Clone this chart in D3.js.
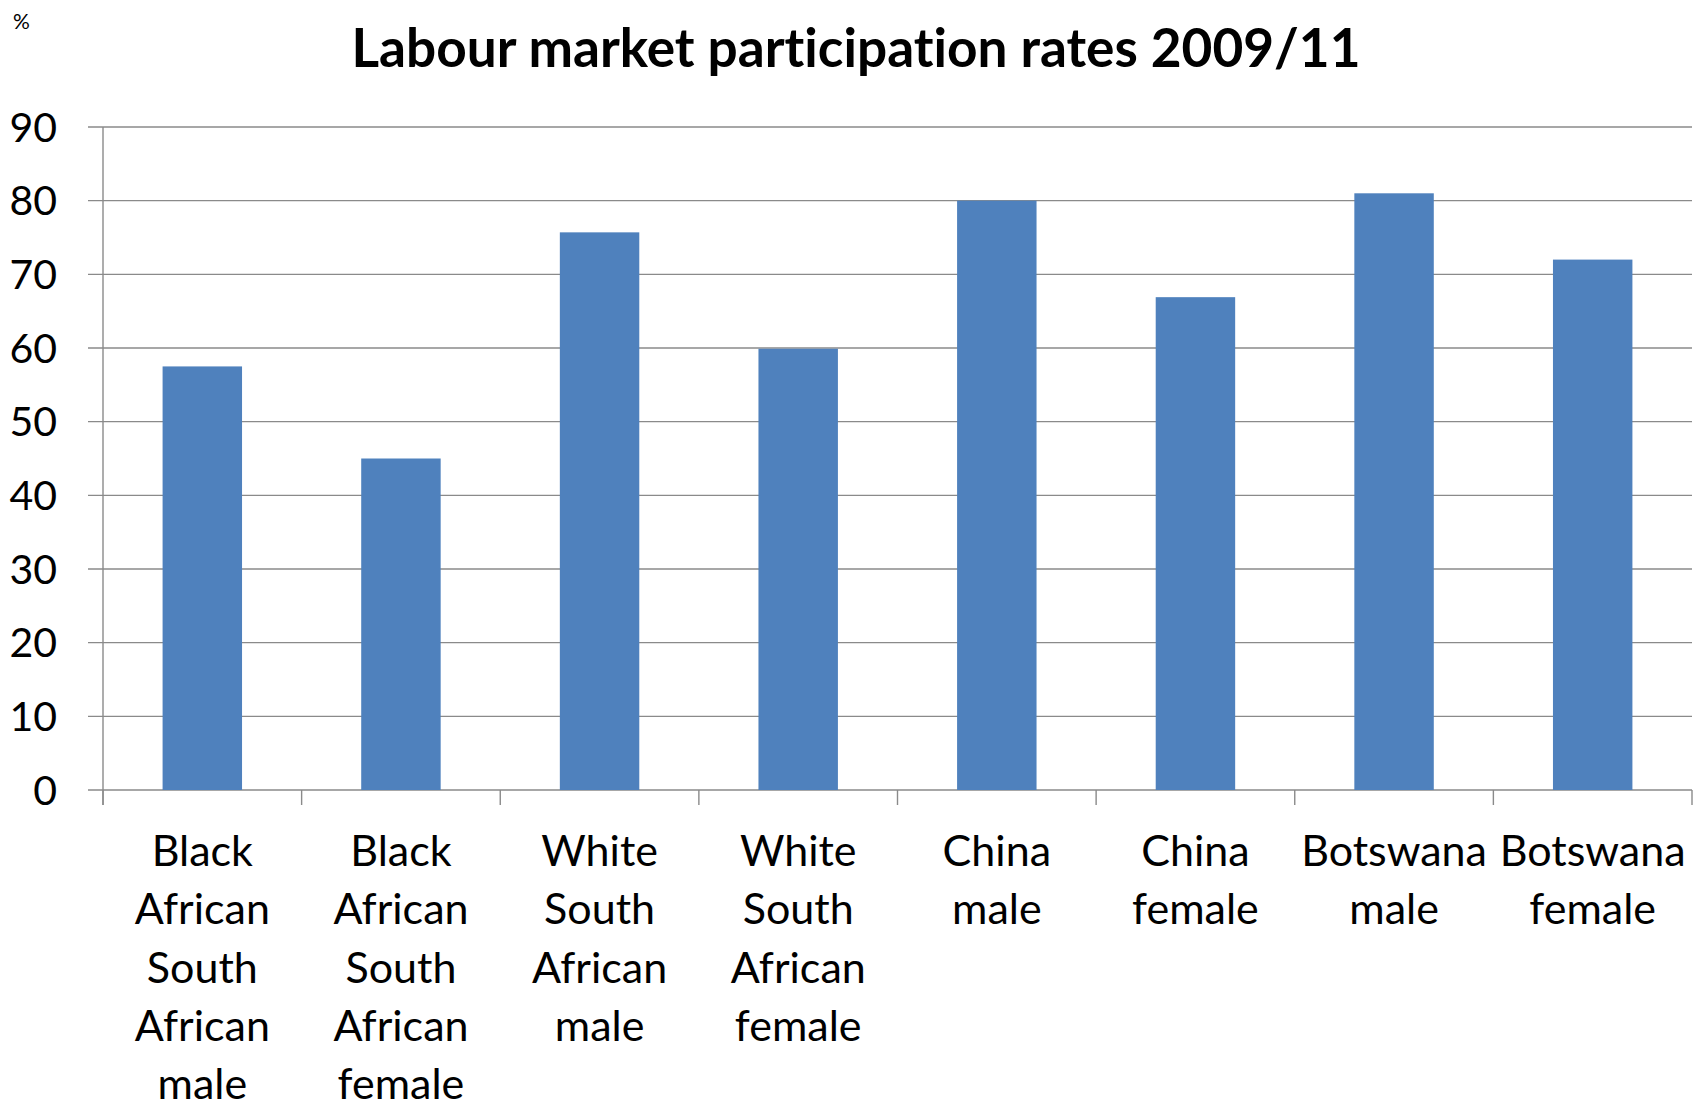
<!DOCTYPE html>
<html>
<head>
<meta charset="utf-8">
<script src="https://cdn.jsdelivr.net/npm/d3@7"></script>
<style>
  html, body { margin: 0; padding: 0; background: #fff; }
  svg { display: block; }
  text { font-family: Lato, "Open Sans", sans-serif; fill: #000; font-variant-ligatures: none; }
</style>
</head>
<body>
<svg id="chart" width="1707" height="1108"></svg>
<script>
// Labour market participation rates, 2009/11 (%)
const categories = [
  ["Black", "African", "South", "African", "male"],
  ["Black", "African", "South", "African", "female"],
  ["White", "South", "African", "male"],
  ["White", "South", "African", "female"],
  ["China", "male"],
  ["China", "female"],
  ["Botswana", "male"],
  ["Botswana", "female"]
];
const rates = [57.5, 45, 75.7, 59.9, 80, 66.9, 81, 72];
const yTicks = [0, 10, 20, 30, 40, 50, 60, 70, 80, 90];
const title = "Labour market participation rates 2009/11";
const unitLabel = "%";

const svg = d3.select("#chart");
const margin = { left: 103, right: 15, top: 127, bottom: 318 };
const W = 1707, H = 1108;
const plotW = W - margin.left - margin.right;
const plotH = H - margin.top - margin.bottom;

const keys = categories.map((c, i) => i);
const x = d3.scaleBand().domain(keys).range([0, plotW]).paddingInner(0.6).paddingOuter(0.3);
const y = d3.scaleLinear().domain([0, 90]).range([plotH, 0]);

const g = svg.append("g").attr("transform", `translate(${margin.left},${margin.top})`);

// horizontal gridlines with outside tick marks
const gridColor = "#8a8a8a";
g.append("g").selectAll("line").data(yTicks).join("line")
  .attr("x1", -15).attr("x2", plotW)
  .attr("y1", d => y(d)).attr("y2", d => y(d))
  .attr("stroke", gridColor).attr("stroke-width", 1.4);

// vertical axis line
g.append("line").attr("x1", 0).attr("x2", 0).attr("y1", 0).attr("y2", plotH + 15)
  .attr("stroke", gridColor).attr("stroke-width", 1.4);

// category boundary ticks below the baseline
const step = x.step();
const bounds = d3.range(categories.length + 1).map(i => i * step);
g.append("g").selectAll("line").data(bounds).join("line")
  .attr("x1", d => d).attr("x2", d => d)
  .attr("y1", plotH).attr("y2", plotH + 15)
  .attr("stroke", gridColor).attr("stroke-width", 1.4);

// bars
g.append("g").selectAll("rect").data(rates).join("rect")
  .attr("x", (d, i) => x(i))
  .attr("width", x.bandwidth())
  .attr("y", d => y(d))
  .attr("height", d => plotH - y(d))
  .attr("fill", "#4f81bd");

// y tick labels
g.append("g").selectAll("text").data(yTicks).join("text")
  .attr("x", -46).attr("y", d => y(d))
  .attr("dy", "0.36em")
  .attr("text-anchor", "end")
  .style("font-size", "41px")
  .text(d => d);

// category labels, one line per word
const lineH = 58.3;
const catG = g.append("g").selectAll("text").data(categories).join("text")
  .attr("text-anchor", "middle")
  .attr("transform", (d, i) => `translate(${x(i) + x.bandwidth() / 2},${plotH + 76})`)
  .style("font-size", "43px");
catG.selectAll("tspan").data(d => d).join("tspan")
  .attr("x", 0).attr("y", (d, j) => j * lineH)
  .text(d => d);

// title
svg.append("text")
  .attr("x", 856).attr("y", 67)
  .attr("text-anchor", "middle")
  .style("font-size", "54px").style("font-weight", "bold")
  .attr("textLength", 1009).attr("lengthAdjust", "spacingAndGlyphs")
  .text(title);

// unit label
svg.append("text")
  .attr("x", 13).attr("y", 29)
  .style("font-size", "21px")
  .text(unitLabel);
</script>
</body>
</html>
